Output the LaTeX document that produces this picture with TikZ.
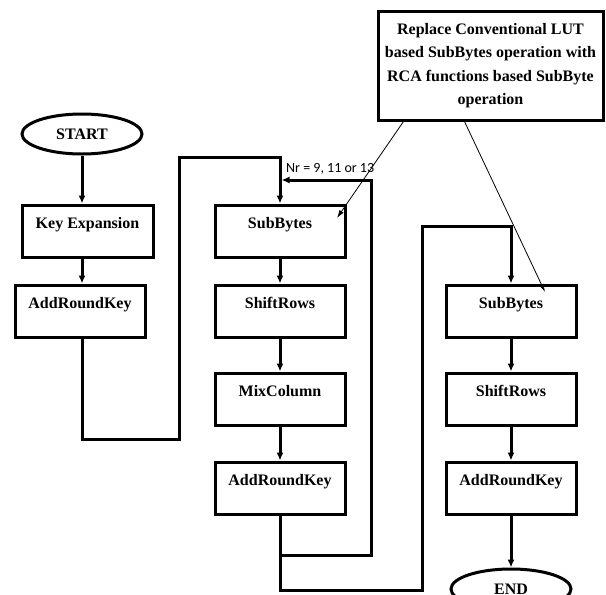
\documentclass[tikz,border=0pt]{standalone}
\usepackage{fontspec}
\setmainfont{Liberation Serif}
\newfontfamily\labfont{Carlito}
\usetikzlibrary{arrows.meta,shapes.geometric}
\begin{document}
\begin{tikzpicture}[x=1pt,y=-1pt,
  boxfont/.style={font=\fontsize{16}{18}\selectfont\bfseries},
  proc/.style={draw, line width=3pt, rectangle, minimum width=130pt, inner sep=0pt,
    text height=23pt, text depth=29pt, boxfont},
  term/.style={draw, line width=3pt, ellipse, minimum width=120pt, minimum height=40pt,
    inner sep=0pt, boxfont},
  flow/.style={line width=3pt, -{Latex[length=8pt,width=7pt]}},
  note/.style={line width=0.8pt, -{Latex[length=8pt,width=5pt]}},
]
\useasboundingbox (0,0) rectangle (606,595);
\fill[white] (0,0) rectangle (606,595);

% nodes
\node[term] (start) at (82,134) {START};
\node[proc, minimum width=131pt] (key) at (87.5,231) {Key Expansion};
\node[proc] (ark1) at (80,311) {AddRoundKey};
\node[proc] (sb1) at (280,231) {SubBytes};
\node[proc] (sr1) at (280,311) {ShiftRows};
\node[proc] (mc) at (280,399) {MixColumn};
\node[proc] (ark2) at (280,488) {AddRoundKey};
\node[proc] (sb2) at (511,311) {SubBytes};
\node[proc] (sr2) at (511,399) {ShiftRows};
\node[proc] (ark3) at (511,488) {AddRoundKey};
\node[term] (end) at (511,589) {END};
\node[draw, line width=3pt, minimum width=225pt, minimum height=109pt, align=center,
  font=\fontsize{16}{23.3}\selectfont\bfseries] (rep) at (490.5,65.5)
  {Replace Conventional LUT\\based SubBytes operation with\\RCA functions based SubByte\\operation};
\node[font=\labfont\fontsize{14}{16}\selectfont, anchor=base west, inner sep=0pt] (nr)
  at (286,172) {Nr = 9, 11 or 13};

% waypoints
\coordinate (a1) at (82,439);
\coordinate (a2) at (179,157);
\coordinate (b1) at (280,555);
\coordinate (b2) at (371,180);
\coordinate (c1) at (280,590);
\coordinate (c2) at (422,226);
\coordinate (t1) at (337,218);
\coordinate (t2) at (545,292);

% left column
\draw[flow] (start) -- (start |- key.north);
\draw[flow] (start |- key.south) -- (start |- ark1.north);
\draw[flow] (start |- ark1.south) -- (a1) -| (a2) -| (sb1.north);

% middle column
\draw[flow] (sb1) -- (sr1);
\draw[flow] (sr1) -- (mc);
\draw[flow] (mc) -- (ark2);
\draw[flow, shorten >=1.5pt] (b1) -| (b2) -- (sb1.north |- b2);
\draw[flow] (ark2.south) -- (c1) -| (c2) -| (sb2.north);

% right column
\draw[flow] (sb2) -- (sr2);
\draw[flow] (sr2) -- (ark3);
\draw[flow] (ark3) -- (end);

% notes
\draw[note] ([xshift=27pt]rep.south west) -- (t1);
\draw[note] ([xshift=88pt]rep.south west) -- (t2);
\end{tikzpicture}
\end{document}
